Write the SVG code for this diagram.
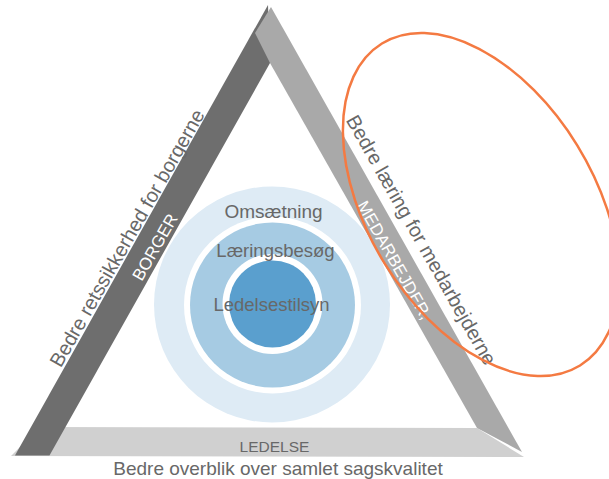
<svg xmlns="http://www.w3.org/2000/svg" width="609" height="479" viewBox="0 0 609 479">
  <style>
    .lbl { font-family: "Liberation Sans", Arial, sans-serif; fill: #686868; }
    .wht { font-family: "Liberation Sans", Arial, sans-serif; fill: #ffffff; }
  </style>
  <rect width="609" height="479" fill="#ffffff"/>
  <g id="frame">
    <polygon id="band-ledelse" points="11,456 40,427 477,428 524,457" fill="#d0d0d0"/>
    <polygon id="band-borger" points="268,5 15,455.5 49.5,455.5 270,63" fill="#6e6e6e"/>
    <polygon id="band-medarbejder" points="271,7 522,452 477,428 270,63 255,33" fill="#a9a9a9"/>
  </g>
  <g id="circles">
    <circle id="omsaetning" cx="272" cy="304.5" r="118" fill="#deebf5"/>
    <circle cx="272.5" cy="305" r="88.5" fill="#ffffff"/>
    <circle id="laeringsbesoeg" cx="272.5" cy="305" r="82.5" fill="#a6cbe3"/>
    <circle cx="272.5" cy="304" r="50" fill="#ffffff"/>
    <circle id="ledelsestilsyn" cx="272.5" cy="304" r="43.5" fill="#5a9fce"/>
  </g>
  <g id="texts">
    <text class="lbl" x="273.5" y="218" font-size="19" text-anchor="middle">Omsætning</text>
    <text class="lbl" x="275.5" y="257" font-size="18.5" text-anchor="middle">Læringsbesøg</text>
    <text class="lbl" x="271.5" y="311" font-size="18.5" text-anchor="middle">Ledelsestilsyn</text>
    <text class="lbl" font-size="20" text-anchor="middle" transform="translate(133,241.5) rotate(-60.4)">Bedre retssikkerhed for borgerne</text>
    <text class="wht" font-size="17" text-anchor="middle" transform="translate(160,250) rotate(-60.4)">BORGER</text>
    <text class="lbl" font-size="20" text-anchor="middle" transform="translate(415.4,243.4) rotate(60.5)">Bedre læring for medarbejderne</text>
    <text class="wht" font-size="17" text-anchor="middle" transform="translate(389.3,263) rotate(60.5)">MEDARBEJDER,</text>
    <text class="lbl" x="274.5" y="452" font-size="15.5" text-anchor="middle">LEDELSE</text>
    <text class="lbl" x="278" y="474.5" font-size="19" text-anchor="middle">Bedre overblik over samlet sagskvalitet</text>
  </g>
  <g id="highlight">
    <ellipse cx="481" cy="204.5" rx="189" ry="113" transform="rotate(58.4 481 204.5)" fill="none" stroke="#f47a42" stroke-width="2.5"/>
  </g>
</svg>
